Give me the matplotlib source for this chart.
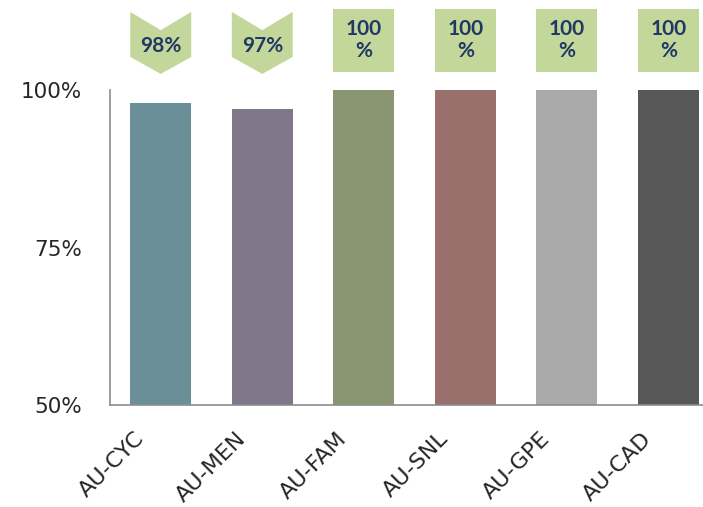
import matplotlib
matplotlib.use("Agg")
import matplotlib.pyplot as plt
from matplotlib.patches import Polygon, Rectangle
import matplotlib.transforms as mtransforms

categories = ["AU-CYC", "AU-MEN", "AU-FAM", "AU-SNL", "AU-GPE", "AU-CAD"]
values = [98, 97, 100, 100, 100, 100]
label_texts = ["98%", "97%", "100\n%", "100\n%", "100\n%", "100\n%"]
label_shapes = ["chevron", "chevron", "rect", "rect", "rect", "rect"]
bar_colors = ["#6B8F99", "#7F768A", "#8A9672", "#9A706C", "#AAAAAA", "#575757"]
yticks = [50, 75, 100]
ytick_labels = ["50%", "75%", "100%"]

W, H = 703, 507
fig = plt.figure(figsize=(W / 100, H / 100), dpi=100)
left, right, top, bottom = 110, 719, 90, 405
ax = fig.add_axes([left / W, 1 - bottom / H, (right - left) / W, (bottom - top) / H])

x = list(range(len(categories)))
ax.bar(x, values, width=0.6, color=bar_colors, zorder=2)
ax.set_xlim(-0.5, len(categories) - 0.5)
ax.set_ylim(50, 100)
ax.set_yticks(yticks)
ax.set_yticklabels(ytick_labels, fontsize=15.5, color="#262626", family="DejaVu Sans")
ax.set_xticks(x)
ax.set_xticklabels(categories, rotation=45, ha="right", rotation_mode="anchor",
                   fontsize=16, color="#262626", family="DejaVu Sans")
ax.tick_params(axis="y", length=0, pad=20)
ax.tick_params(axis="x", length=0, pad=17)
shift = mtransforms.ScaledTranslation(-27 / 100, 0, fig.dpi_scale_trans)
for lbl in ax.get_xticklabels():
    lbl.set_transform(lbl.get_transform() + shift)
for s in ["top", "right"]:
    ax.spines[s].set_visible(False)
for s in ["left", "bottom"]:
    ax.spines[s].set_color("#8C8C8C")
    ax.spines[s].set_linewidth(1.2)

trans = mtransforms.blended_transform_factory(ax.transData, ax.transAxes)
green = "#C4D79B"
hw = 0.3
lbl_font = dict(fontsize=15, color="#1F3864", family="Lato", weight="bold")
for xi, txt, shp in zip(x, label_texts, label_shapes):
    if shp == "chevron":
        ytop, notch, side_bot, tip = 1.248, 1.19, 1.105, 1.051
        poly = Polygon([[xi - hw, ytop], [xi, notch], [xi + hw, ytop],
                        [xi + hw, side_bot], [xi, tip], [xi - hw, side_bot]],
                       closed=True, transform=trans, facecolor=green,
                       edgecolor="none", clip_on=False)
        ax.add_patch(poly)
        ax.text(xi, 1.14, txt, transform=trans, ha="center", va="center",
                clip_on=False, **lbl_font)
    else:
        r = Rectangle((xi - hw, 1.058), 2 * hw, 0.2, transform=trans,
                      facecolor=green, edgecolor="none", clip_on=False)
        ax.add_patch(r)
        ax.text(xi, 1.158, txt, transform=trans, ha="center", va="center",
                linespacing=1.15, clip_on=False, **lbl_font)

fig.savefig("out.png", dpi=100)
